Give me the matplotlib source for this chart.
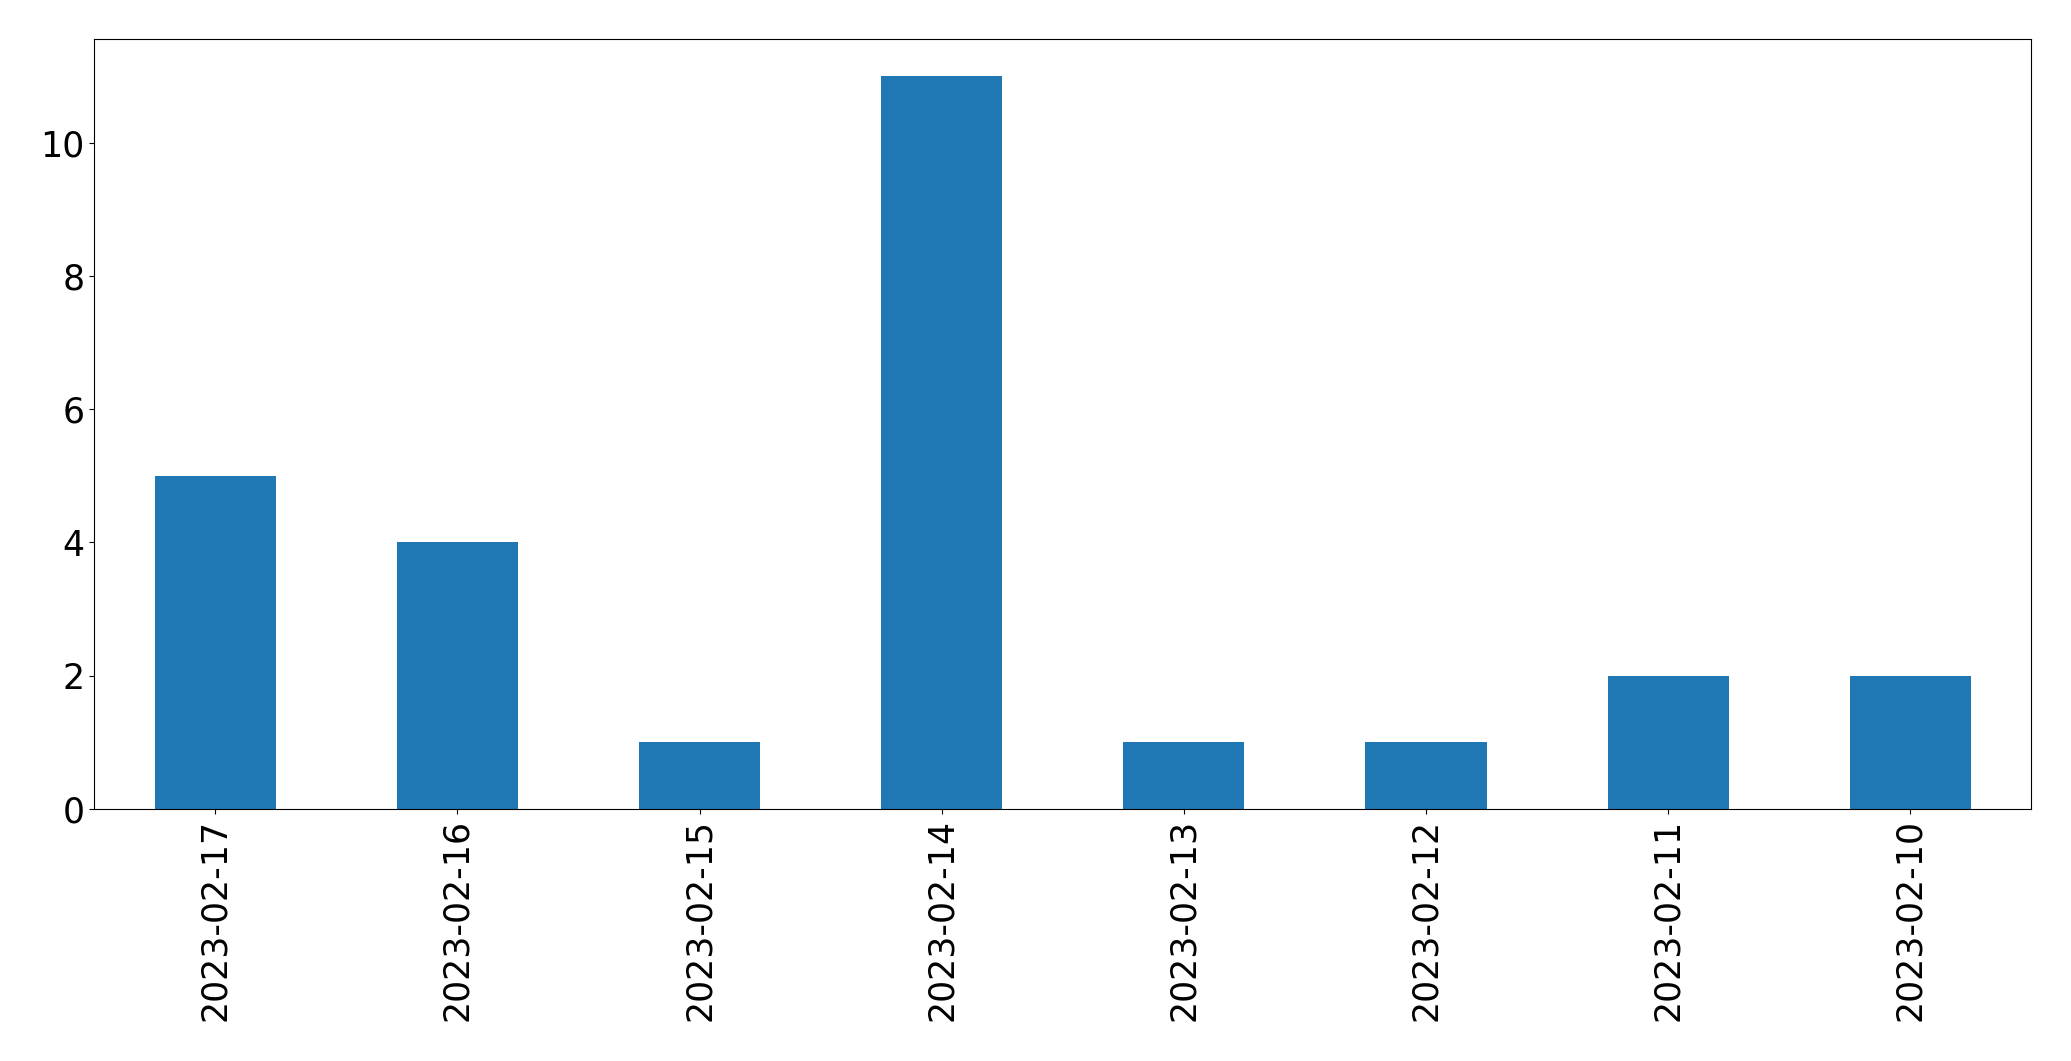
import matplotlib
matplotlib.use("Agg")
import matplotlib.pyplot as plt

dates = ["2023-02-17", "2023-02-16", "2023-02-15", "2023-02-14",
         "2023-02-13", "2023-02-12", "2023-02-11", "2023-02-10"]
counts = [5, 4, 1, 11, 1, 1, 2, 2]

fig = plt.figure(figsize=(20.71, 10.61), dpi=100)
ax = fig.add_axes([94.3 / 2071, 1 - 809 / 1061, (2031.3 - 94.3) / 2071, (809 - 39.3) / 1061])
x = list(range(len(dates)))
ax.bar(x, counts, width=0.5, color="#1f77b4")
ax.set_xlim(-0.5, len(dates) - 0.5)
ax.set_ylim(0, 11.55)
ax.set_xticks(x)
ax.set_xticklabels(dates, rotation=90)
ax.tick_params(axis="both", labelsize=25)
fig.savefig("out.png", dpi=100)
